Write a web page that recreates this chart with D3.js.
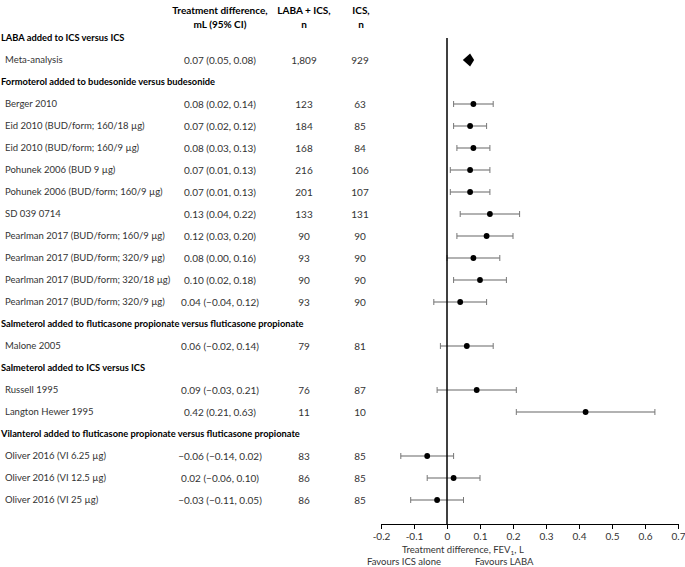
<!DOCTYPE html>
<html><head><meta charset="utf-8">
<script src="https://cdn.jsdelivr.net/npm/d3@7"></script>
<style>body{margin:0;background:#fff}svg{display:block;font-family:Lato,"Open Sans",sans-serif}</style>
</head><body><svg id="c" width="685" height="567"></svg>
<script>
const rowLabels = [
 "LABA added to ICS versus ICS","Meta-analysis",
 "Formoterol added to budesonide versus budesonide",
 "Berger 2010","Eid 2010 (BUD/form; 160/18 µg)","Eid 2010 (BUD/form; 160/9 µg)",
 "Pohunek 2006 (BUD 9 µg)","Pohunek 2006 (BUD/form; 160/9 µg)","SD 039 0714",
 "Pearlman 2017 (BUD/form; 160/9 µg)","Pearlman 2017 (BUD/form; 320/9 µg)",
 "Pearlman 2017 (BUD/form; 320/18 µg)","Pearlman 2017 (BUD/form; 320/9 µg)",
 "Salmeterol added to fluticasone propionate versus fluticasone propionate","Malone 2005",
 "Salmeterol added to ICS versus ICS","Russell 1995","Langton Hewer 1995",
 "Vilanterol added to fluticasone propionate versus fluticasone propionate",
 "Oliver 2016 (VI 6.25 µg)","Oliver 2016 (VI 12.5 µg)","Oliver 2016 (VI 25 µg)"
];
const rowKinds = ["section","meta","section","study","study","study","study","study","study","study","study","study","study","section","study","section","study","study","section","study","study","study"];
const estimates = [null,0.07,null,0.08,0.07,0.08,0.07,0.07,0.13,0.12,0.08,0.10,0.04,null,0.06,null,0.09,0.42,null,-0.06,0.02,-0.03];
const lowerCI  = [null,0.05,null,0.02,0.02,0.03,0.01,0.01,0.04,0.03,0.00,0.02,-0.04,null,-0.02,null,-0.03,0.21,null,-0.14,-0.06,-0.11];
const upperCI  = [null,0.08,null,0.14,0.12,0.13,0.13,0.13,0.22,0.20,0.16,0.18,0.12,null,0.14,null,0.21,0.63,null,0.02,0.10,0.05];
const nLabaIcs = [null,"1,809",null,"123","184","168","216","201","133","90","93","90","93",null,"79",null,"76","11",null,"83","86","86"];
const nIcs     = [null,"929",null,"63","85","84","106","107","131","90","90","90","90",null,"81",null,"87","10",null,"85","85","85"];
const xTicks = [-0.2,-0.1,0,0.1,0.2,0.3,0.4,0.5,0.6,0.7];
const xTickLabels = ["-0.2","-0.1","0","0.1","0.2","0.3","0.4","0.5","0.6","0.7"];

const svg = d3.select("#c");
const FS = 10, FSL = 9.5, FSB = 9.3;
const x = d3.scaleLinear().domain([-0.2,0.7]).range([381,678]);
const y = d3.scalePoint().domain(d3.range(rowLabels.length+1)).range([38,522]);
const fmt = v => d3.format(".2f")(v).replace("-","\u2013");

// header
const hdr = svg.append("g").attr("font-weight","bold").attr("font-size",FS).attr("text-anchor","middle").attr("fill","#000");
hdr.append("text").attr("x",220).attr("y",10).attr("dy","0.35em").text("Treatment difference,");
hdr.append("text").attr("x",220).attr("y",24).attr("dy","0.35em").text("mL (95% CI)");
hdr.append("text").attr("x",304).attr("y",10).attr("dy","0.35em").text("LABA + ICS,");
hdr.append("text").attr("x",304).attr("y",24).attr("dy","0.35em").text("n");
hdr.append("text").attr("x",361).attr("y",10).attr("dy","0.35em").text("ICS,");
hdr.append("text").attr("x",361).attr("y",24).attr("dy","0.35em").text("n");

const rows = svg.append("g").selectAll("g").data(rowLabels.map((l,i)=>({l,i,k:rowKinds[i]}))).join("g")
  .attr("transform",d=>`translate(0,${y(d.i)})`).attr("font-size",FS).attr("fill","#222");
rows.append("text").attr("x",d=>d.k==="section"?1:5).attr("dy","0.35em")
  .attr("font-size",d=>d.k==="section"?FSB:FSL)
  .attr("font-weight",d=>d.k==="section"?"bold":"normal").attr("fill",d=>d.k==="section"?"#000":"#333").text(d=>d.l);
const dat = rows.filter(d=>d.k!=="section");
dat.append("text").attr("x",220).attr("text-anchor","middle").attr("dy","0.35em").attr("fill","#333")
  .text(d=>`${fmt(estimates[d.i])} (${fmt(lowerCI[d.i])}, ${fmt(upperCI[d.i])})`);
dat.append("text").attr("x",304).attr("text-anchor","middle").attr("dy","0.35em").attr("fill","#333").text(d=>nLabaIcs[d.i]);
dat.append("text").attr("x",360).attr("text-anchor","middle").attr("dy","0.35em").attr("fill","#333").text(d=>nIcs[d.i]);

// error bars
const st = dat.filter(d=>d.k==="study");
st.append("line").attr("x1",d=>x(lowerCI[d.i])).attr("x2",d=>x(upperCI[d.i])).attr("stroke","#999").attr("stroke-width",1.5);
st.append("line").attr("x1",d=>x(lowerCI[d.i])).attr("x2",d=>x(lowerCI[d.i])).attr("y1",-3).attr("y2",3).attr("stroke","#777").attr("stroke-width",1);
st.append("line").attr("x1",d=>x(upperCI[d.i])).attr("x2",d=>x(upperCI[d.i])).attr("y1",-3).attr("y2",3).attr("stroke","#777").attr("stroke-width",1);

// zero line
svg.append("line").attr("x1",x(0)).attr("x2",x(0)).attr("y1",38).attr("y2",y(rowLabels.length)+2).attr("stroke","#000").attr("stroke-width",1.5);

st.append("circle").attr("cx",d=>x(estimates[d.i])).attr("r",2.9).attr("fill","#000");
const me = dat.filter(d=>d.k==="meta");
me.append("path").attr("d",d=>{const a=x(lowerCI[d.i])-0.7,b=x(upperCI[d.i])+0.7,c=x(estimates[d.i]);return `M${a},0L${c},-6.5L${b},0L${c},6.5Z`;}).attr("fill","#000");

// axis
const axY = y(rowLabels.length)+2;
const ax = svg.append("g").attr("transform",`translate(0,${axY})`)
  .call(d3.axisBottom(x).tickValues(xTicks).tickFormat((d,i)=>xTickLabels[i]).tickSize(5).tickPadding(4).tickSizeOuter(0));
ax.select(".domain").attr("stroke","#000").attr("stroke-width",1.2);
ax.selectAll(".tick line").attr("stroke","#000").attr("stroke-width",1);
ax.selectAll("text").attr("font-family","Lato,sans-serif").attr("font-size",FS).attr("fill","#333");

const t = svg.append("text").attr("x",402).attr("y",549.5).attr("dy","0.35em").attr("font-size",FSL).attr("fill","#333");
t.append("tspan").text("Treatment difference, FEV");
t.append("tspan").attr("dy",2).attr("font-size",6.5).text("1");
t.append("tspan").attr("dy",-2).text(", L");
svg.append("text").attr("x",367).attr("y",561.5).attr("dy","0.35em").attr("font-size",FSL).attr("fill","#333").text("Favours ICS alone");
svg.append("text").attr("x",475).attr("y",561.5).attr("dy","0.35em").attr("font-size",FSL).attr("fill","#333").text("Favours LABA");
</script></body></html>
